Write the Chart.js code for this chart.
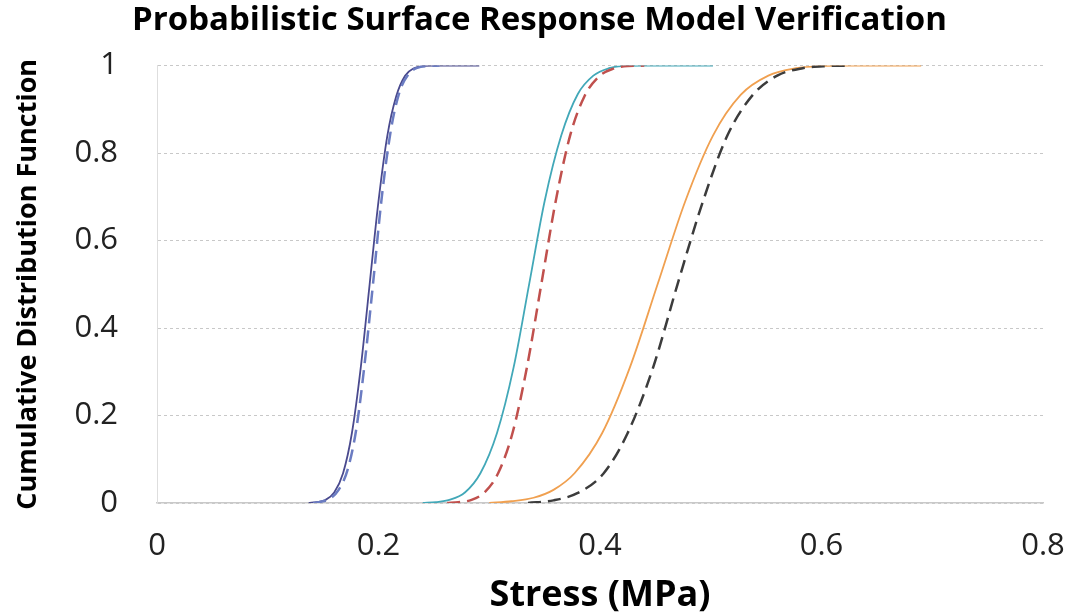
<!DOCTYPE html>
<html>
<head>
<meta charset="utf-8">
<title>Probabilistic Surface Response Model Verification</title>
<script src="https://cdn.jsdelivr.net/npm/chart.js@4/dist/chart.umd.min.js"></script>
<style>
  html, body { margin: 0; padding: 0; background: #fff; }
  #cdfChart { display: block; }
</style>
</head>
<body>
<canvas id="cdfChart" width="1071" height="615"></canvas>
<script>
// Stress (MPa) vs cumulative probability, three load cases,
// each with a response-surface curve (solid) and a reference curve (dashed)

const xTicks = [0, 0.2, 0.4, 0.6, 0.8];
const yTicks = [0, 0.2, 0.4, 0.6, 0.8, 1];

// case 1
const case1SurfaceX = [0.137, 0.144, 0.152, 0.160, 0.168, 0.176, 0.184, 0.192, 0.200, 0.208, 0.216, 0.224, 0.232, 0.240, 0.250, 0.291];
const case1SurfaceY = [0, 0.002, 0.007, 0.024, 0.068, 0.16, 0.31, 0.5, 0.69, 0.84, 0.93, 0.977, 0.994, 0.999, 1, 1];
const case1RefX = [0.141, 0.148, 0.156, 0.164, 0.172, 0.180, 0.188, 0.195, 0.203, 0.211, 0.219, 0.227, 0.235, 0.245, 0.255];
const case1RefY = [0, 0.003, 0.01, 0.03, 0.075, 0.17, 0.33, 0.5, 0.7, 0.85, 0.94, 0.98, 0.995, 0.999, 1];

// case 2
const case2SurfaceX = [0.240, 0.252, 0.264, 0.278, 0.292, 0.307, 0.322, 0.336, 0.350, 0.365, 0.380, 0.394, 0.408, 0.423, 0.440, 0.502];
const case2SurfaceY = [0, 0.002, 0.007, 0.024, 0.068, 0.16, 0.31, 0.5, 0.69, 0.84, 0.935, 0.977, 0.994, 0.999, 1, 1];
const case2RefX = [0.262, 0.272, 0.284, 0.296, 0.308, 0.321, 0.334, 0.347, 0.360, 0.373, 0.386, 0.399, 0.412, 0.425, 0.440];
const case2RefY = [0, 0.002, 0.007, 0.025, 0.068, 0.16, 0.31, 0.5, 0.69, 0.84, 0.93, 0.975, 0.993, 0.999, 1];

// case 3
const case3SurfaceX = [0.300, 0.320, 0.340, 0.358, 0.377, 0.402, 0.427, 0.452, 0.477, 0.502, 0.527, 0.552, 0.577, 0.600, 0.625, 0.690];
const case3SurfaceY = [0, 0.004, 0.012, 0.03, 0.068, 0.16, 0.31, 0.5, 0.69, 0.84, 0.933, 0.977, 0.994, 0.999, 1, 1];
const case3RefX = [0.335, 0.358, 0.380, 0.403, 0.425, 0.448, 0.470, 0.493, 0.515, 0.538, 0.560, 0.583, 0.605, 0.625];
const case3RefY = [0, 0.006, 0.023, 0.067, 0.16, 0.31, 0.5, 0.69, 0.84, 0.933, 0.977, 0.994, 0.999, 1];

function toPoints(xs, ys) {
    return xs.map((x, i) => ({ x: x, y: ys[i] }));
}

function curve(label, xs, ys, color, dashed) {
    return {
        label: label,
        data: toPoints(xs, ys),
        borderColor: color,
        borderWidth: dashed ? 2.5 : 1.8,
        borderDash: dashed ? [13, 7] : [],
        pointRadius: 0,
        fill: false,
        cubicInterpolationMode: 'monotone'
    };
}

const tickFont = { family: "'Open Sans', sans-serif", size: 31 };
const boldFont = { family: "'Open Sans', sans-serif", weight: 'bold' };

new Chart(document.getElementById('cdfChart').getContext('2d'), {
    type: 'line',
    data: {
        datasets: [
            curve('Case 1 reference', case1RefX, case1RefY, '#6b7cc2', true),
            curve('Case 2 reference', case2RefX, case2RefY, '#c0504d', true),
            curve('Case 3 reference', case3RefX, case3RefY, '#3c3c3c', true),
            curve('Case 1 surface', case1SurfaceX, case1SurfaceY, '#4a4a8e', false),
            curve('Case 2 surface', case2SurfaceX, case2SurfaceY, '#42a8b8', false),
            curve('Case 3 surface', case3SurfaceX, case3SurfaceY, '#f0a050', false)
        ]
    },
    options: {
        responsive: false,
        animation: false,
        devicePixelRatio: 1,
        layout: { padding: { left: 36, right: 28, top: 0, bottom: 0 } },
        plugins: {
            legend: { display: false },
            tooltip: { enabled: false },
            title: {
                display: true,
                text: 'Probabilistic Surface Response Model Verification',
                color: '#000',
                font: Object.assign({ size: 33 }, boldFont),
                padding: { top: 1, bottom: 25 }
            }
        },
        scales: {
            x: {
                type: 'linear',
                min: xTicks[0],
                max: xTicks[xTicks.length - 1],
                afterBuildTicks: scale => { scale.ticks = xTicks.map(v => ({ value: v })); },
                afterFit: scale => {
                    scale.height = 112;
                    // let the end tick labels hang past the plot edges
                    scale.paddingLeft = 0;
                    scale.paddingRight = 0;
                },
                ticks: { color: '#222', font: tickFont, padding: 25, callback: v => String(v) },
                grid: { drawOnChartArea: false, drawTicks: false },
                border: { display: true, color: '#c9c9c9', width: 1.5 },
                title: {
                    display: true,
                    text: 'Stress (MPa)',
                    color: '#000',
                    font: Object.assign({ size: 36 }, boldFont),
                    padding: { top: 0, bottom: -2 }
                }
            },
            y: {
                type: 'linear',
                min: yTicks[0],
                max: yTicks[yTicks.length - 1],
                afterBuildTicks: scale => { scale.ticks = yTicks.map(v => ({ value: v })); },
                afterFit: scale => { scale.width = 121; },
                ticks: { color: '#222', font: tickFont, padding: 39, callback: v => String(v) },
                grid: { color: '#c8c8c8', lineWidth: 1, drawTicks: false },
                border: { display: true, color: '#dedede', width: 1, dash: [3, 3] },
                title: {
                    display: true,
                    text: 'Cumulative Distribution Function',
                    color: '#000',
                    font: Object.assign({ size: 27 }, boldFont),
                    padding: { top: -24, bottom: 0 }
                }
            }
        }
    }
});
</script>
</body>
</html>
